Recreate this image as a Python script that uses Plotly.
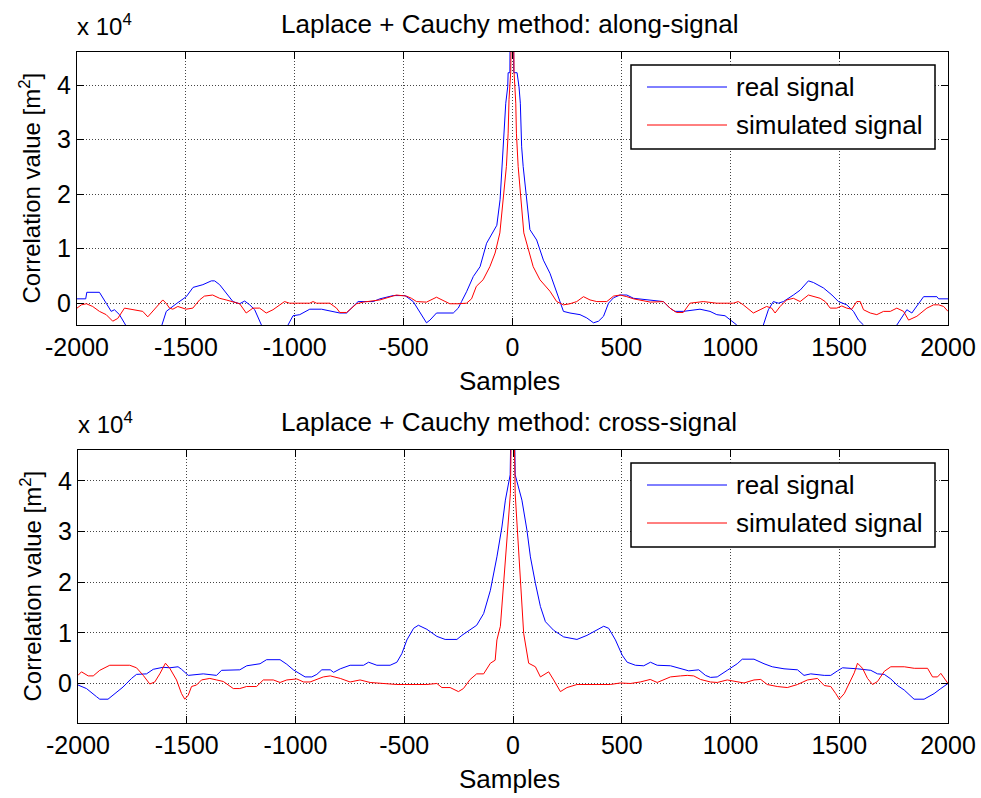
import plotly.graph_objects as go

# ---------------- data (values in units of 10^4 m^2) ----------------
x_ticks = [-2000, -1500, -1000, -500, 0, 500, 1000, 1500, 2000]
y_ticks = [0, 1, 2, 3, 4]
series_names = ["real signal", "simulated signal"]
series_colors = ["#0000ff", "#ff0000"]
titles = ["Laplace + Cauchy method: along-signal", "Laplace + Cauchy method: cross-signal"]

along_real_x = [-2000, -1960, -1955, -1897, -1866, -1843, -1828, -1805, -1774, -1730, -1690, -1650,
                -1610, -1590, -1544, -1498, -1467, -1422, -1383, -1368, -1345, -1314, -1284, -1253,
                -1230, -1207, -1184, -1153, -1120, -1090, -1060, -1031, -1008, -977, -931, -877,
                -839, -793, -762, -739, -709, -640, -609, -548, -509, -494, -456, -433, -395, -379,
                -349, -272, -249, -234, -211, -180, -149, -119, -94, -72, -57, -47, -40, -31, -22,
                -20, -12, -10, 4, 6, 21, 30, 36, 42, 49, 64, 80, 111, 142, 172, 203, 234, 264, 310,
                341, 372, 395, 418, 441, 464, 494, 525, 556, 602, 663, 693, 723, 746, 784, 861, 907,
                938, 976, 999, 1030, 1060, 1090, 1120, 1152, 1175, 1198, 1221, 1244, 1290, 1321,
                1359, 1382, 1428, 1467, 1497, 1535, 1566, 1589, 1612, 1650, 1690, 1730, 1765, 1781,
                1811, 1834, 1857, 1888, 1949, 1957, 2000]
along_real_y = [0.08, 0.08, 0.20, 0.20, 0.0, -0.15, -0.12, -0.21, -0.42, -0.70, -0.85, -0.70,
                -0.40, -0.15, -0.01, 0.12, 0.29, 0.34, 0.41, 0.41, 0.34, 0.18, 0.03, -0.01,
                0.04, -0.03, -0.12, -0.40, -0.65, -0.75, -0.60, -0.40, -0.23, -0.21, -0.11, -0.11,
                -0.14, -0.18, -0.18, -0.09, 0.03, 0.03, 0.08, 0.14, 0.15, 0.14, 0.03, -0.12, -0.36, -0.31,
                -0.18, -0.18, -0.09, 0.03, 0.21, 0.49, 0.67, 1.10, 1.29, 1.43, 1.90, 2.51, 3.12, 3.67, 3.97,
                4.23, 4.23, 5.5, 5.5, 4.23, 4.23, 3.97, 3.67, 2.87, 2.51, 1.90, 1.35, 1.16, 0.79, 0.55, 0.18, -0.15, -0.18, -0.21,
                -0.27, -0.36, -0.33, -0.24, 0.0, 0.10, 0.15, 0.15, 0.09, 0.07, 0.03, 0.03, -0.09, -0.15, -0.15, -0.11, -0.15,
                -0.21, -0.23, -0.31, -0.40, -0.65, -0.75, -0.60, -0.40, -0.12, 0.03, 0.0, 0.03, 0.15, 0.24,
                0.41, 0.38, 0.28, 0.15, 0.03, -0.03, -0.15, -0.31, -0.40, -0.70, -0.85, -0.70, -0.40, -0.31,
                -0.12, -0.18, -0.06, 0.12, 0.12, 0.08, 0.08]

along_sim_x = [-2000, -1980, -1957, -1928, -1897, -1866, -1836, -1813, -1782, -1751, -1698, -1675,
               -1637, -1606, -1591, -1575, -1560, -1537, -1499, -1468, -1437, -1415, -1377, -1345,
               -1315, -1284, -1253, -1223, -1192, -1161, -1131, -1100, -1070, -1047, -1024, -931,
               -916, -900, -839, -808, -793, -762, -716, -686, -609, -579, -533, -487, -464, -441,
               -418, -395, -349, -326, -288, -249, -211, -188, -166, -135, -104, -80, -58, -28,
               -20, -16, -8, -4, 4, 7, 15, 18, 26, 52, 95, 126, 150, 172, 203, 234, 264, 295, 326,
               356, 387, 433, 464, 494, 525, 556, 633, 693, 723, 753, 784, 815, 876, 938, 1014,
               1037, 1060, 1091, 1106, 1137, 1167, 1190, 1206, 1229, 1259, 1290, 1321, 1359, 1382,
               1413, 1436, 1459, 1489, 1512, 1535, 1558, 1581, 1597, 1612, 1643, 1673, 1704, 1735,
               1765, 1796, 1819, 1857, 1903, 1934, 1957, 1980, 2000]
along_sim_y = [-0.09, -0.03, -0.01, -0.06, -0.15, -0.21, -0.33, -0.28, -0.09, -0.11, -0.15, -0.25,
               -0.09, 0.06, 0.0, -0.09, -0.11, -0.06, -0.11, -0.09, 0.06, 0.13, 0.15, 0.09,
               0.06, 0.03, -0.01, -0.18, -0.09, -0.09, -0.18, -0.12, -0.03, 0.03, 0.0, 0.0,
               0.03, 0.0, 0.0, -0.09, -0.17, -0.17, -0.01, 0.02, 0.06, 0.09, 0.15, 0.13, 0.09, 0.03,
               0.03, 0.02, 0.11, 0.06, -0.01, -0.01, 0.0, 0.08, 0.31, 0.43, 0.67, 0.92, 1.29, 2.51,
               3.12, 3.74, 4.25, 5.5, 5.5, 4.25, 3.67, 3.12, 2.51, 1.29, 0.67, 0.43, 0.31, 0.22, 0.03, -0.03, -0.01, 0.03, 0.12,
               0.06, 0.03, 0.03, 0.13, 0.15, 0.12, 0.08, 0.02, 0.03, -0.09, -0.17, -0.17, 0.0, 0.03, 0.0, 0.0,
               0.03, -0.03, -0.12, -0.18, -0.12, -0.06, -0.09, -0.18, -0.06, 0.06, 0.09, 0.03, 0.15, 0.12,
               0.09, 0.03, -0.09, -0.09, -0.05, -0.09, -0.11, 0.03, 0.03, -0.12, -0.18, -0.21, -0.15, -0.15,
               -0.09, -0.15, -0.31, -0.24, -0.09, -0.03, -0.03, -0.06, -0.15]

cross_real_x = [-2000, -1961, -1915, -1900, -1862, -1831, -1793, -1754, -1731, -1685, -1654, -1609,
                -1578, -1540, -1524, -1493, -1455, -1424, -1363, -1340, -1256, -1224, -1163, -1133,
                -1071, -1040, -1010, -979, -956, -925, -902, -879, -840, -825, -794, -749, -687,
                -664, -626, -565, -534, -511, -488, -457, -435, -396, -350, -312, -258, -235, -197,
                -167, -135, -104, -74, -51, -35, -20, -13, -8, 6, 10, 26, 41, 64, 80, 103, 126, 149,
                187, 233, 294, 340, 386, 417, 440, 471, 502, 525, 563, 601, 632, 663, 724, 770, 808,
                854, 885, 908, 939, 985, 1031, 1054, 1108, 1154, 1192, 1246, 1308, 1338, 1369, 1431,
                1461, 1492, 1515, 1584, 1645, 1676, 1707, 1737, 1768, 1799, 1844, 1890, 1936, 1967, 2000]
cross_real_y = [-0.03, -0.10, -0.26, -0.31, -0.31, -0.20, -0.07, 0.10, 0.18, 0.19, 0.28, 0.32,
                0.31, 0.33, 0.28, 0.16, 0.17, 0.19, 0.16, 0.26, 0.27, 0.35, 0.39, 0.47,
                0.47, 0.38, 0.27, 0.19, 0.13, 0.13, 0.18, 0.27, 0.27, 0.22, 0.29, 0.36, 0.36,
                0.42, 0.36, 0.36, 0.42, 0.59, 0.86, 1.09, 1.15, 1.07, 0.93, 0.87, 0.87, 0.95, 1.07,
                1.15, 1.38, 1.84, 2.50, 3.09, 3.62, 3.92, 4.12, 5.5, 5.5, 4.12, 3.88, 3.62, 3.03, 2.50, 1.98, 1.52, 1.22,
                1.05, 0.92, 0.87, 0.95, 1.05, 1.13, 1.09, 0.86, 0.56, 0.42, 0.36, 0.35, 0.42, 0.36, 0.35, 0.29, 0.25,
                0.27, 0.16, 0.12, 0.13, 0.26, 0.39, 0.48, 0.48, 0.39, 0.33, 0.29, 0.27, 0.16, 0.19, 0.16,
                0.16, 0.25, 0.31, 0.29, 0.26, 0.19, 0.18, 0.09, -0.04, -0.13, -0.31, -0.31, -0.20, -0.10, 0.0]

cross_sim_x = [-2000, -1984, -1953, -1930, -1900, -1854, -1762, -1731, -1700, -1670, -1647, -1624,
               -1598, -1578, -1547, -1524, -1509, -1493, -1478, -1455, -1432, -1394, -1363, -1332,
               -1286, -1256, -1225, -1179, -1148, -1102, -1071, -1040, -994, -963, -933, -902, -872,
               -840, -794, -749, -703, -657, -611, -534, -396, -350, -327, -289, -251, -228, -197,
               -167, -135, -104, -82, -74, -58, -43, -27, -12, -6, 4, 10, 21, 33, 49, 72, 103, 126,
               164, 187, 218, 248, 294, 386, 447, 493, 540, 585, 631, 663, 694, 724, 770, 801, 831,
               862, 908, 939, 985, 1031, 1062, 1108, 1139, 1169, 1215, 1261, 1308, 1354, 1400, 1431,
               1461, 1484, 1500, 1523, 1546, 1569, 1584, 1607, 1630, 1653, 1676, 1707, 1737, 1799,
               1845, 1906, 1929, 1952, 1967, 2000]
cross_sim_y = [0.16, 0.23, 0.15, 0.15, 0.26, 0.36, 0.36, 0.31, 0.16, -0.01, 0.03, 0.19,
               0.40, 0.30, 0.07, -0.20, -0.31, -0.23, -0.06, -0.03, 0.07, 0.10, 0.07, 0.04,
               -0.10, -0.10, -0.06, -0.06, 0.07, 0.07, 0.02, 0.07, 0.09, 0.03, 0.03, 0.08, 0.13,
               0.15, 0.10, 0.03, 0.07, 0.02, 0.0, -0.02, -0.02, 0.0, -0.08, -0.08, -0.16, -0.10, 0.08,
               0.19, 0.19, 0.40, 0.46, 0.86, 1.13, 2.05, 2.90, 3.75, 5.5, 5.5, 3.75, 2.97, 1.92, 0.99, 0.40, 0.33, 0.13,
               0.23, 0.07, -0.16, -0.08, -0.02, -0.02, -0.02, 0.01, 0.0, 0.03, 0.08, 0.02, 0.07, 0.13, 0.15, 0.16, 0.15,
               0.08, 0.03, 0.02, 0.07, 0.04, 0.01, 0.07, 0.08, -0.02, -0.06, -0.08, -0.02, 0.07, 0.10, -0.04,
               -0.06, -0.20, -0.31, -0.20, 0.01, 0.21, 0.40, 0.30, 0.10, -0.02, 0.04, 0.24, 0.33, 0.33,
               0.30, 0.30, 0.13, 0.13, 0.20, 0.0]

y_ranges = [[-0.40, 4.61], [-0.78, 4.61]]

# ---------------- figure ----------------
W, H = 981, 798
FONT = "Liberation Sans, Arial, sans-serif"


def fx(px):
    return px / W


def fy(py):
    return 1 - py / H


fig = go.Figure()
panels = [
    (along_real_x, along_real_y, along_sim_x, along_sim_y),
    (cross_real_x, cross_real_y, cross_sim_x, cross_sim_y),
]
for i, (rx, ry, sx, sy) in enumerate(panels):
    ax = "x" if i == 0 else "x2"
    ay = "y" if i == 0 else "y2"
    fig.add_trace(go.Scatter(x=rx, y=ry, mode="lines", name=series_names[0],
                             line=dict(color=series_colors[0], width=1),
                             xaxis=ax, yaxis=ay, showlegend=False))
    fig.add_trace(go.Scatter(x=sx, y=sy, mode="lines", name=series_names[1],
                             line=dict(color=series_colors[1], width=1),
                             xaxis=ax, yaxis=ay, showlegend=False))

axis_common = dict(
    showline=True, linecolor="black", linewidth=1, mirror="ticks",
    ticks="inside", ticklen=7, tickcolor="black", tickwidth=1,
    showgrid=True, gridcolor="#444444", griddash="1px,2px", gridwidth=1,
    zeroline=False, automargin=False,
    tickfont=dict(family=FONT, size=25, color="black"),
)

# plot area pixel boxes
boxes = [dict(l=77, r=948, t=52, b=325), dict(l=78, r=948, t=450, b=723)]

layout_axes = {}
for i, bx in enumerate(boxes):
    xs = "xaxis" if i == 0 else "xaxis2"
    ys = "yaxis" if i == 0 else "yaxis2"
    layout_axes[xs] = dict(axis_common, domain=[fx(bx["l"]), fx(bx["r"])], range=[-2000, 2000],
                           tickvals=x_ticks, ticktext=[str(v) for v in x_ticks],
                           anchor="y" if i == 0 else "y2")
    layout_axes[ys] = dict(axis_common, domain=[fy(bx["b"]), fy(bx["t"])], range=y_ranges[i],
                           tickvals=y_ticks, ticktext=[str(v) for v in y_ticks],
                           anchor="x" if i == 0 else "x2")

fig.update_layout(
    width=W, height=H, margin=dict(l=0, r=0, t=0, b=0, autoexpand=False),
    paper_bgcolor="white", plot_bgcolor="white",
    showlegend=False, **layout_axes,
)

annotations = []
shapes = []
for i, bx in enumerate(boxes):
    off = 0 if i == 0 else 398
    # title
    annotations.append(dict(text=titles[i], x=fx(509), y=fy(24 + off), xref="paper", yref="paper",
                            xanchor="center", yanchor="middle", showarrow=False,
                            font=dict(family=FONT, size=26, color="black")))
    # x label
    annotations.append(dict(text="Samples", x=fx(509), y=fy(381 + off), xref="paper", yref="paper",
                            xanchor="center", yanchor="middle", showarrow=False,
                            font=dict(family=FONT, size=26, color="black")))
    # y label
    annotations.append(dict(text="Correlation value [m<sup>2</sup>]", x=fx(30),
                            y=fy((bx["t"] + bx["b"]) / 2), xref="paper", yref="paper",
                            xanchor="center", yanchor="middle", showarrow=False, textangle=-90,
                            font=dict(family=FONT, size=24, color="black")))
    # exponent label
    annotations.append(dict(text="x 10<sup>4</sup>", x=fx(bx["l"] - 2), y=fy(bx["t"] - 10),
                            xref="paper", yref="paper", xanchor="left", yanchor="bottom",
                            showarrow=False, font=dict(family=FONT, size=24, color="black")))
    # legend box
    lt = 65 + off
    shapes.append(dict(type="rect", xref="paper", yref="paper", x0=fx(631), x1=fx(935),
                       y0=fy(lt + 84), y1=fy(lt), line=dict(color="black", width=1.5),
                       fillcolor="white", layer="above"))
    for k in range(2):
        ly = lt + 22 + k * 38
        shapes.append(dict(type="line", xref="paper", yref="paper", x0=fx(647), x1=fx(727),
                           y0=fy(ly), y1=fy(ly), line=dict(color=series_colors[k], width=1),
                           layer="above"))
        annotations.append(dict(text=series_names[k], x=fx(734), y=fy(ly), xref="paper",
                                yref="paper", xanchor="left", yanchor="middle", showarrow=False,
                                font=dict(family=FONT, size=26, color="black")))

fig.update_layout(annotations=annotations, shapes=shapes)
fig.write_html("out.html")
